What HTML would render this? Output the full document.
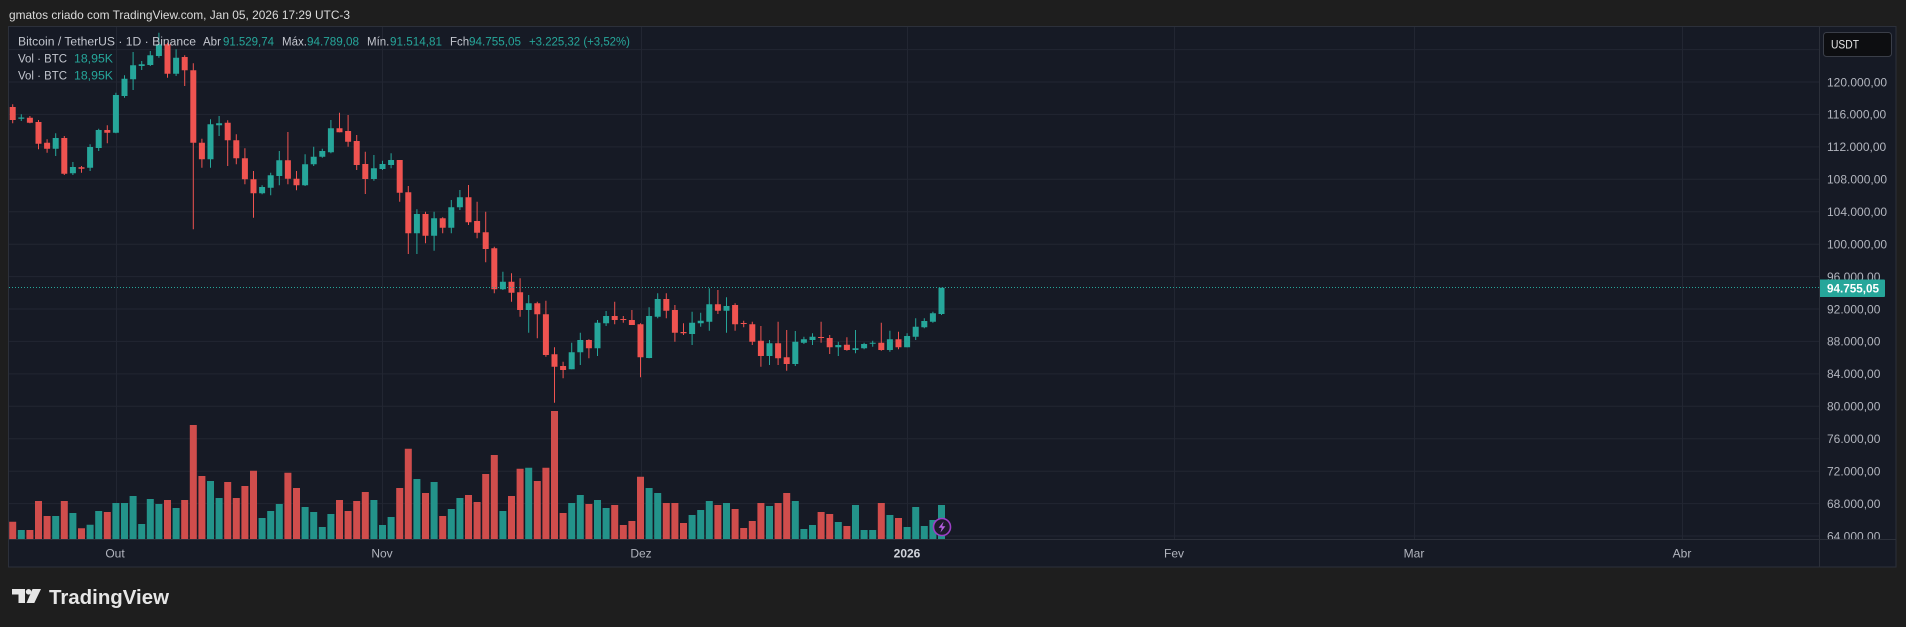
<!DOCTYPE html>
<html>
<head>
<meta charset="utf-8">
<style>
html,body{margin:0;padding:0;background:#1e1e1e;}
body{width:1906px;height:627px;overflow:hidden;}
svg{display:block;}
text{font-family:"Liberation Sans",Arial,sans-serif;}
</style>
</head>
<body>
<svg width="1906" height="627" viewBox="0 0 1906 627" xmlns="http://www.w3.org/2000/svg">
<defs>
<clipPath id="pane"><rect x="9" y="27" width="1810" height="512"/></clipPath>
<clipPath id="axis"><rect x="1820" y="27" width="76" height="512"/></clipPath>
</defs>
<rect x="0" y="0" width="1906" height="627" fill="#1e1e1e"/>
<text x="9" y="19" font-size="12" fill="#dcdcdc" textLength="341" lengthAdjust="spacingAndGlyphs">gmatos criado com TradingView.com, Jan 05, 2026 17:29 UTC-3</text>

<!-- chart pane -->
<rect x="9" y="27" width="1887" height="540" fill="#161a25"/>

<!-- grid -->
<g stroke="#222632" stroke-width="1">
<path d="M9 49.6H1819M9 82H1819M9 114.4H1819M9 146.9H1819M9 179.3H1819M9 211.7H1819M9 244.2H1819M9 276.6H1819M9 309H1819M9 341.4H1819M9 373.9H1819M9 406.3H1819M9 438.8H1819M9 471.2H1819M9 503.6H1819M9 536H1819"/>
<path d="M116.5 27V539M382.5 27V539M641.5 27V539M907.5 27V539M1174.5 27V539M1414.5 27V539M1682.5 27V539"/>
</g>

<g clip-path="url(#pane)">
<!-- volume -->
<path fill="#23938a" d="M17.8 530h7V539h-7zM52.2 516h7V539h-7zM69.4 513h7V539h-7zM86.6 524.7h7V539h-7zM95.2 511h7V539h-7zM112.4 503h7V539h-7zM121 503h7V539h-7zM129.6 496h7V539h-7zM138.2 524h7V539h-7zM146.8 499h7V539h-7zM155.4 504h7V539h-7zM172.6 508h7V539h-7zM207 481h7V539h-7zM215.6 498h7V539h-7zM258.6 518h7V539h-7zM267.2 511h7V539h-7zM275.8 504h7V539h-7zM301.6 507h7V539h-7zM310.2 512h7V539h-7zM318.8 527h7V539h-7zM327.4 514h7V539h-7zM370.4 500h7V539h-7zM379 525h7V539h-7zM387.6 517h7V539h-7zM413.4 479h7V539h-7zM430.6 482h7V539h-7zM447.8 509h7V539h-7zM456.4 498h7V539h-7zM499.4 511h7V539h-7zM525.2 467.7h7V539h-7zM568.2 503h7V539h-7zM576.8 495h7V539h-7zM594 500h7V539h-7zM602.6 508h7V539h-7zM645.6 488h7V539h-7zM654.2 493h7V539h-7zM688.6 515h7V539h-7zM697.2 510h7V539h-7zM705.8 501h7V539h-7zM723 503h7V539h-7zM766 506h7V539h-7zM791.8 501h7V539h-7zM800.4 529h7V539h-7zM809 525h7V539h-7zM834.8 522h7V539h-7zM852 505h7V539h-7zM860.6 530h7V539h-7zM869.2 530h7V539h-7zM886.4 515h7V539h-7zM903.6 527h7V539h-7zM912.2 507h7V539h-7zM920.8 526h7V539h-7zM929.4 520h7V539h-7zM938 505h7V539h-7z"/>
<path fill="#d04d4c" d="M9.2 521.7h7V539h-7zM26.4 530h7V539h-7zM35 501h7V539h-7zM43.6 516h7V539h-7zM60.8 501h7V539h-7zM78 528.3h7V539h-7zM103.8 512h7V539h-7zM164 500h7V539h-7zM181.2 500h7V539h-7zM189.8 425h7V539h-7zM198.4 476h7V539h-7zM224.2 482h7V539h-7zM232.8 498h7V539h-7zM241.4 486h7V539h-7zM250 470.7h7V539h-7zM284.4 472.7h7V539h-7zM293 488h7V539h-7zM336 500h7V539h-7zM344.6 511h7V539h-7zM353.2 501h7V539h-7zM361.8 492h7V539h-7zM396.2 488h7V539h-7zM404.8 448.7h7V539h-7zM422 493h7V539h-7zM439.2 516h7V539h-7zM465 495h7V539h-7zM473.6 502h7V539h-7zM482.2 474h7V539h-7zM490.8 455h7V539h-7zM508 496h7V539h-7zM516.6 468.7h7V539h-7zM533.8 481h7V539h-7zM542.4 467.7h7V539h-7zM551 411h7V539h-7zM559.6 513h7V539h-7zM585.4 504h7V539h-7zM611.2 505h7V539h-7zM619.8 525h7V539h-7zM628.4 521h7V539h-7zM637 476.7h7V539h-7zM662.8 503h7V539h-7zM671.4 503h7V539h-7zM680 523h7V539h-7zM714.4 505h7V539h-7zM731.6 509h7V539h-7zM740.2 528h7V539h-7zM748.8 521h7V539h-7zM757.4 503h7V539h-7zM774.6 503h7V539h-7zM783.2 493h7V539h-7zM817.6 512h7V539h-7zM826.2 514h7V539h-7zM843.4 526h7V539h-7zM877.8 503h7V539h-7zM895 518h7V539h-7z"/>

<!-- wicks -->
<path stroke="#26a69a" stroke-width="1" fill="none" d="M21.3 114.3V121M55.7 133.3V156M72.9 162V175M90.1 144.3V171M98.7 128.7V151M115.9 92.7V133.3M124.5 75.3V97.7M133.1 52V90M141.7 61V70M150.3 51V66M158.9 32.7V57.7M176.1 49.3V76M210.5 119.3V167.7M219.1 116V136M262.1 185.3V194.3M270.7 172.7V195.3M279.3 151V185.3M305.1 154.3V186M313.7 146.7V166M322.3 148.7V157.7M330.9 120V153.3M373.9 155V180.7M382.5 160.7V170M391.1 153.3V168.3M416.9 209.3V254M434.1 211.7V250.7M451.3 200V233.3M459.9 190V210M502.9 271.7V290M528.7 295V332.7M571.7 342.7V369.3M580.3 332.7V365M597.5 320V356M606.1 311V326M649.1 307.3V358.3M657.7 293.3V318.3M692.1 311.7V345M700.7 312.7V326.7M709.3 288.3V330.7M726.5 297.3V332.7M769.5 340V365M795.3 331V366M803.9 336.7V344M812.5 333.3V345M838.3 341.7V356M855.5 330V353.3M864.1 342.7V349.3M872.7 340.7V346.7M889.9 330.7V351.7M907.1 333.3V347.3M915.7 318.3V340M924.3 318.3V328.3M932.9 311.7V322.7M941.5 287.7V315"/>
<path stroke="#ef5350" stroke-width="1" fill="none" d="M12.7 104.3V123.3M29.9 116V123.3M38.5 120V149.3M47.1 139.3V152.7M64.3 136V175M81.5 166V172.7M107.3 125.3V143.3M167.5 42.7V77.7M184.7 55.3V86M193.3 63.3V229.3M201.9 138.7V167.7M227.7 120.3V166M236.3 134.3V164.3M244.9 148.3V184.3M253.5 171V217.7M287.9 132V184.3M296.5 171V190.3M339.5 112.7V132.3M348.1 115V146.7M356.7 135V170M365.3 151.7V194M399.7 160V201.7M408.3 186V254M425.5 211.7V243.3M442.7 217.3V233.3M468.5 185V225M477.1 201.7V238.3M485.7 211.7V262.3M494.3 246.7V293.3M511.5 273.3V301.7M520.1 278.3V316.7M537.3 301.7V338.3M545.9 300.7V356.7M554.5 347.3V402.7M563.1 361.7V378.3M588.9 339.3V358.3M614.7 301.7V324.3M623.3 316V322.7M631.9 310V325M640.5 323.3V377.3M666.3 293.3V318.3M674.9 305V341.7M683.5 323.3V335M717.9 290V314M735.1 303.3V330.7M743.7 320.7V327.3M752.3 321.7V345M760.9 326V366.7M778.1 321.7V365M786.7 330V370.7M821.1 321.7V342.7M829.7 335V354M846.9 337.3V350.7M881.3 322.7V350.7M898.5 331.7V349.3"/>

<!-- bodies -->
<path fill="#26a69a" d="M18.3 117.5h6V118.7h-6zM52.7 138h6V148.7h-6zM69.9 167h6V173.3h-6zM87.1 147h6V167.7h-6zM95.7 130h6V148h-6zM112.9 95h6V132.7h-6zM121.5 78.7h6V96h-6zM130.1 65.3h6V79.3h-6zM138.7 64.3h6V66h-6zM147.3 55.3h6V65h-6zM155.9 44.3h6V56h-6zM173.1 57.7h6V73.7h-6zM207.5 124.3h6V159.3h-6zM216.1 123.3h6V125.3h-6zM259.1 187h6V193.3h-6zM267.7 175.3h6V187.7h-6zM276.3 160.3h6V176h-6zM302.1 164.3h6V185.3h-6zM310.7 156.7h6V164.3h-6zM319.3 151h6V156.7h-6zM327.9 128.3h6V152.3h-6zM370.9 168.3h6V179h-6zM379.5 164h6V169h-6zM388.1 160h6V165h-6zM413.9 214h6V233.3h-6zM431.1 218.3h6V235.7h-6zM448.3 207.3h6V227.7h-6zM456.9 197.3h6V207.3h-6zM499.9 281.7h6V289.3h-6zM525.7 303.3h6V310h-6zM568.7 352.3h6V369.3h-6zM577.3 340h6V352.3h-6zM594.5 322.7h6V348.3h-6zM603.1 316h6V323.3h-6zM646.1 316h6V358h-6zM654.7 299h6V316.7h-6zM689.1 322.7h6V334h-6zM697.7 320.7h6V323.3h-6zM706.3 304.3h6V321.7h-6zM723.5 306h6V310.7h-6zM766.5 343.3h6V356h-6zM792.3 341.7h6V364h-6zM800.9 339.3h6V342.7h-6zM809.5 336.7h6V340h-6zM835.3 345h6V347.3h-6zM852.5 348.3h6V350h-6zM861.1 344h6V348.3h-6zM869.7 342.7h6V343.7h-6zM886.9 339.3h6V350h-6zM904.1 336h6V347.3h-6zM912.7 326.7h6V336.7h-6zM921.3 321h6V327.3h-6zM929.9 313.3h6V321.7h-6zM938.5 287.7h6V314h-6z"/>
<path fill="#ef5350" d="M9.7 107h6V120h-6zM26.9 117.7h6V122.7h-6zM35.5 122h6V143.7h-6zM44.1 142.7h6V148.7h-6zM61.3 138h6V173.7h-6zM78.5 167.3h6V168.7h-6zM104.3 130h6V132.7h-6zM164.5 44.3h6V73.7h-6zM181.7 57h6V70.3h-6zM190.3 70.3h6V142.7h-6zM198.9 142.7h6V159.3h-6zM224.7 122.7h6V140.3h-6zM233.3 140.3h6V158.3h-6zM241.9 158.3h6V179.3h-6zM250.5 179.3h6V193.3h-6zM284.9 160.3h6V178.7h-6zM293.5 178.7h6V185.3h-6zM336.5 128.3h6V132.3h-6zM345.1 131h6V141.7h-6zM353.7 141h6V165h-6zM362.3 164h6V179h-6zM396.7 160h6V192.7h-6zM405.3 192.3h6V233.3h-6zM422.5 214h6V235.7h-6zM439.7 218.3h6V227.7h-6zM465.5 197.3h6V222.3h-6zM474.1 221h6V232.7h-6zM482.7 232.3h6V249h-6zM491.3 248.3h6V289.3h-6zM508.5 281.7h6V292.7h-6zM517.1 292.3h6V310h-6zM534.3 303.3h6V314.3h-6zM542.9 314.3h6V355h-6zM551.5 354.3h6V366.7h-6zM560.1 366h6V370h-6zM585.9 340h6V348.3h-6zM611.7 316h6V320h-6zM620.3 319h6V320h-6zM628.9 320h6V325h-6zM637.5 324.3h6V357.3h-6zM663.3 299h6V310.7h-6zM671.9 310h6V332.7h-6zM680.5 332h6V333.3h-6zM714.9 304.3h6V310.7h-6zM732.1 305h6V324.3h-6zM740.7 323h6V324h-6zM749.3 324.3h6V341.7h-6zM757.9 340.7h6V356h-6zM775.1 343.3h6V358.3h-6zM783.7 357.3h6V364h-6zM818.1 337h6V338h-6zM826.7 338h6V347.3h-6zM843.9 344.7h6V350h-6zM878.3 342.7h6V350h-6zM895.5 339.3h6V347.3h-6z"/>

<!-- current price line -->
<path d="M9 287.5H1819" stroke="#26a69a" stroke-width="1" stroke-dasharray="1 2"/>

<!-- lightning icon -->
<circle cx="942" cy="527" r="8.5" fill="#1d1a2b" stroke="#9c3fc6" stroke-width="1.6"/>
<path d="M943.6 521.5L938.6 527.8H941.8L940.4 532.6L945.4 526.2H942.2Z" fill="#b55ee0"/>
</g>

<!-- legend -->
<text x="18" y="45.5" font-size="11.5" fill="#c3c6ce" textLength="178" lengthAdjust="spacingAndGlyphs">Bitcoin / TetherUS · 1D · Binance</text>
<text x="203" y="45.5" font-size="11.5" fill="#c3c6ce">Abr</text>
<text x="223" y="45.5" font-size="11.5" fill="#26a69a" textLength="51" lengthAdjust="spacingAndGlyphs">91.529,74</text>
<text x="282" y="45.5" font-size="11.5" fill="#c3c6ce">Máx.</text>
<text x="307" y="45.5" font-size="11.5" fill="#26a69a" textLength="52" lengthAdjust="spacingAndGlyphs">94.789,08</text>
<text x="367" y="45.5" font-size="11.5" fill="#c3c6ce">Mín.</text>
<text x="390" y="45.5" font-size="11.5" fill="#26a69a" textLength="52" lengthAdjust="spacingAndGlyphs">91.514,81</text>
<text x="450" y="45.5" font-size="11.5" fill="#c3c6ce">Fch</text>
<text x="469" y="45.5" font-size="11.5" fill="#26a69a" textLength="52" lengthAdjust="spacingAndGlyphs">94.755,05</text>
<text x="529" y="45.5" font-size="11.5" fill="#26a69a" textLength="101" lengthAdjust="spacingAndGlyphs">+3.225,32 (+3,52%)</text>
<text x="18" y="62.3" font-size="11.5" fill="#c3c6ce" textLength="49" lengthAdjust="spacingAndGlyphs">Vol · BTC</text>
<text x="74" y="62.3" font-size="11.5" fill="#26a69a" textLength="39" lengthAdjust="spacingAndGlyphs">18,95K</text>
<text x="18" y="79.3" font-size="11.5" fill="#c3c6ce" textLength="49" lengthAdjust="spacingAndGlyphs">Vol · BTC</text>
<text x="74" y="79.3" font-size="11.5" fill="#26a69a" textLength="39" lengthAdjust="spacingAndGlyphs">18,95K</text>

<!-- price axis -->
<g clip-path="url(#axis)" font-size="12" fill="#b2b5be">
<text x="1827" y="86.3">120.000,00</text>
<text x="1827" y="118.7">116.000,00</text>
<text x="1827" y="151.2">112.000,00</text>
<text x="1827" y="183.6">108.000,00</text>
<text x="1827" y="216">104.000,00</text>
<text x="1827" y="248.5">100.000,00</text>
<text x="1827" y="280.9">96.000,00</text>
<text x="1827" y="313.3">92.000,00</text>
<text x="1827" y="345.7">88.000,00</text>
<text x="1827" y="378.2">84.000,00</text>
<text x="1827" y="410.6">80.000,00</text>
<text x="1827" y="443.1">76.000,00</text>
<text x="1827" y="475.5">72.000,00</text>
<text x="1827" y="507.9">68.000,00</text>
<text x="1827" y="540.3">64.000,00</text>
</g>
<rect x="1819" y="279.5" width="66" height="17.5" rx="1" fill="#26a69a"/>
<text x="1827" y="292.5" font-size="12" font-weight="bold" fill="#ffffff" textLength="52" lengthAdjust="spacingAndGlyphs">94.755,05</text>
<rect x="1823.5" y="32.5" width="68" height="24" rx="3" fill="#0d0e11" stroke="#3a3e48" stroke-width="1"/>
<text x="1831" y="48.5" font-size="11.5" fill="#e6e6e6" textLength="28" lengthAdjust="spacingAndGlyphs">USDT</text>

<!-- frame / separators -->
<g stroke="#2c303a" stroke-width="1" fill="none">
<rect x="8.5" y="26.5" width="1887.5" height="540.5"/>
<path d="M1819.5 27V567M9 539.5H1896"/>
</g>

<!-- time axis -->
<g font-size="12" fill="#b2b5be" text-anchor="middle">
<text x="115" y="557.3">Out</text>
<text x="382" y="557.3">Nov</text>
<text x="641" y="557.3">Dez</text>
<text x="907" y="557.3" font-weight="bold" fill="#d1d4dc">2026</text>
<text x="1174" y="557.3">Fev</text>
<text x="1414" y="557.3">Mar</text>
<text x="1682" y="557.3">Abr</text>
</g>

<!-- logo -->
<g fill="#e6e6e6">
<path d="M12 589H25V603H18.5V594.5H12Z"/>
<circle cx="28.6" cy="591.8" r="2.8"/>
<path d="M32.5 589H41L34.3 603H26.5Z"/>
</g>
<text x="49" y="604" font-size="20" font-weight="bold" fill="#e6e6e6" textLength="120" lengthAdjust="spacingAndGlyphs">TradingView</text>
</svg>
</body>
</html>
